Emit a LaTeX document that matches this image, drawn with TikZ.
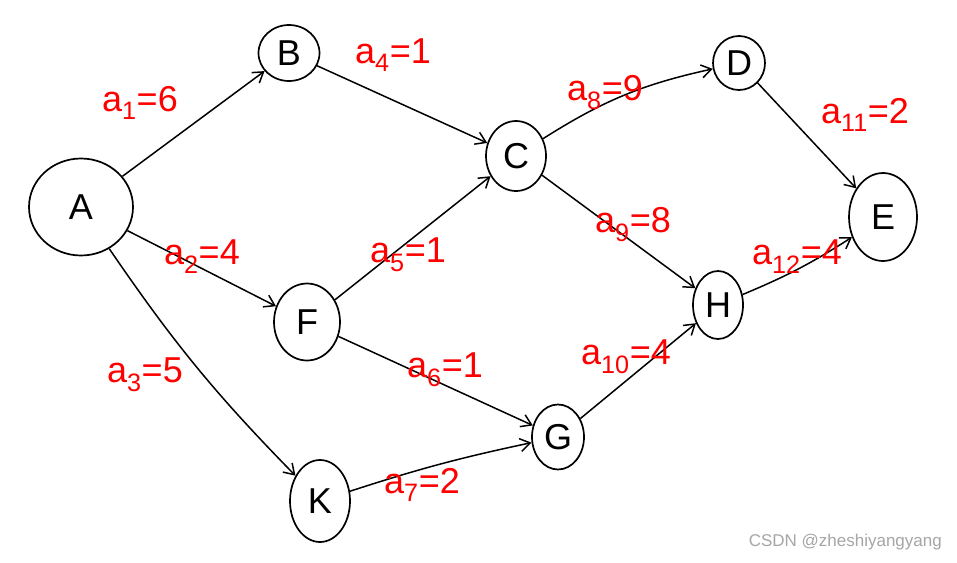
\documentclass[tikz,border=0pt]{standalone}
\usepackage{fontspec}
\setmainfont{Liberation Sans}
\usetikzlibrary{shapes.geometric,arrows.meta}
\begin{document}
\begin{tikzpicture}[x=1pt,y=-1pt,
  vtx/.style={draw,ellipse,line width=1.7pt,inner sep=0pt,font=\fontsize{36}{36}\selectfont},
  edge/.style={draw,line width=1.5pt,-{Straight Barb[length=10pt,width=13pt]}},
  wlabel/.style={text=red,font=\fontsize{36}{36}\selectfont,inner sep=0pt}]
\useasboundingbox (0,0) rectangle (957,562);
\fill[white] (0,0) rectangle (957,562);
\node[vtx,minimum width=104,minimum height=97] (A) at (81,207) {A};
\node[vtx,minimum width=61,minimum height=56] (B) at (289,53) {B};
\node[vtx,minimum width=60,minimum height=70] (C) at (516,156) {C};
\node[vtx,minimum width=52,minimum height=54] (D) at (739,63) {D};
\node[vtx,minimum width=68,minimum height=88] (E) at (883,217) {E};
\node[vtx,minimum width=66,minimum height=77] (F) at (307,322) {F};
\node[vtx,minimum width=50,minimum height=68] (H) at (718,305) {H};
\node[vtx,minimum width=52,minimum height=65] (G) at (558,437) {G};
\node[vtx,minimum width=60,minimum height=82] (K) at (320,501) {K};

\draw[edge] (A) -- (B);
\draw[edge] (A) -- (F);
\draw[edge] (A) to[bend right=5] (K);
\draw[edge] (B) -- (C);
\draw[edge] (F) -- (C);
\draw[edge] (F) -- (G);
\draw[edge] (K) to[bend left=3] (G);
\draw[edge] (C) to[bend left=10] (D);
\draw[edge] (C) -- (H);
\draw[edge] (D) -- (E);
\draw[edge] (G) -- (H);
\draw[edge] (H) to[bend right=5] (E);

\node[wlabel] (l1) at (140,103) {a\textsubscript{1}=6};
\node[wlabel] (l4) at (393,55) {a\textsubscript{4}=1};
\node[wlabel] (l2) at (202,257) {a\textsubscript{2}=4};
\node[wlabel] (l5) at (408,255) {a\textsubscript{5}=1};
\node[wlabel] (l3) at (145,375) {a\textsubscript{3}=5};
\node[wlabel] (l6) at (445,370) {a\textsubscript{6}=1};
\node[wlabel] (l7) at (422,485) {a\textsubscript{7}=2};
\node[wlabel] (l8) at (605,93) {a\textsubscript{8}=9};
\node[wlabel] (l9) at (633,225) {a\textsubscript{9}=8};
\node[wlabel] (l10) at (626,357) {a\textsubscript{10}=4};
\node[wlabel] (l11) at (865,115) {a\textsubscript{11}=2};
\node[wlabel] (l12) at (797,257) {a\textsubscript{12}=4};

\node[text=gray!70,font=\fontsize{17}{17}\selectfont,anchor=east,inner sep=0pt] (wm) at (942,542) {CSDN @zheshiyangyang};
\end{tikzpicture}
\end{document}
